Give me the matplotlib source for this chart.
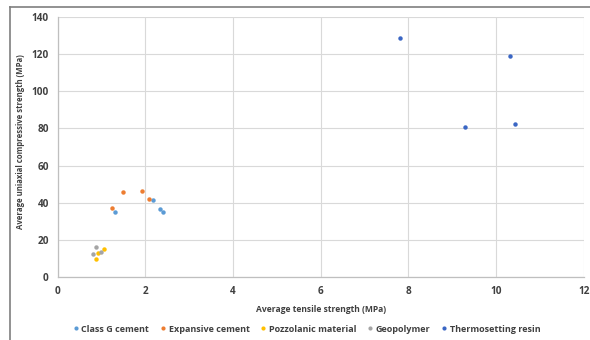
import matplotlib.pyplot as plt
from matplotlib.lines import Line2D

plt.rcParams['font.family'] = ['Open Sans', 'DejaVu Sans']

# Average tensile strength (MPa) / average UCS (MPa) per material class
class_g_x = [1.30, 2.18, 2.34, 2.41]
class_g_y = [35.0, 41.6, 36.8, 35.0]

expansive_x = [1.23, 1.48, 1.92, 2.07]
expansive_y = [37.3, 45.9, 46.3, 42.0]

pozzolanic_x = [0.86, 0.92, 1.05]
pozzolanic_y = [9.9, 12.9, 15.2]

geopolymer_x = [0.80, 0.86, 0.98]
geopolymer_y = [12.2, 16.2, 13.3]

resin_x = [7.81, 9.30, 10.31, 10.44]
resin_y = [128.5, 80.9, 119.0, 82.6]

series = [
    ("Class G cement", class_g_x, class_g_y, "#5B9BD5"),
    ("Expansive cement", expansive_x, expansive_y, "#ED7D31"),
    ("Pozzolanic material", pozzolanic_x, pozzolanic_y, "#FFC000"),
    ("Geopolymer", geopolymer_x, geopolymer_y, "#A5A5A5"),
    ("Thermosetting resin", resin_x, resin_y, "#3A66C4"),
]

fig = plt.figure(figsize=(5.9, 3.4), dpi=100)
ax = fig.add_axes([0.098, 0.185, 0.8915, 0.765])

for name, xs, ys, col in series:
    ax.plot(xs, ys, linestyle="none", marker="o", markersize=3.2,
            color=col, markeredgewidth=0, label=name, zorder=3)

ax.set_xlim(0, 12)
ax.set_ylim(0, 140)
ax.set_xticks(range(0, 13, 2))
ax.set_yticks(range(0, 141, 20))
ax.grid(True, color="#D9D9D9", linewidth=0.8)
ax.set_axisbelow(True)
for side in ["top", "right"]:
    ax.spines[side].set_visible(False)
for side in ["left", "bottom"]:
    ax.spines[side].set_color("#BFBFBF")
    ax.spines[side].set_linewidth(0.9)
ax.tick_params(length=0, pad=6.5, labelsize=7.2, labelcolor="#404040")
for lab in ax.get_xticklabels() + ax.get_yticklabels():
    lab.set_fontweight("bold")

ax.set_xlabel("Average tensile strength (MPa)", fontsize=6.1, fontweight="bold",
              color="#404040")
ax.set_ylabel("Average uniaxial compressive strength (MPa)", fontsize=5.6,
              fontweight="bold", color="#404040")
ax.xaxis.set_label_coords(0.5, -0.107)
ax.yaxis.set_label_coords(-0.063, 0.521)

handles = [Line2D([], [], linestyle="none", marker="o", markersize=3,
                  color=col, markeredgewidth=0) for _, _, _, col in series]
fig.legend(handles, [s[0] for s in series], loc="center", ncol=5,
           bbox_to_anchor=(0.52, 0.032), frameon=False,
           handlelength=0.6, handletextpad=0.3, columnspacing=1.25,
           prop={"weight": "bold", "size": 6.5})
for t in fig.legends[0].get_texts():
    t.set_color("#404040")

# outer chart frame (top and left edges visible)
fig.add_artist(Line2D([0.017, 1.0], [0.979, 0.979], color="#7F7F7F", linewidth=1.2))
fig.add_artist(Line2D([0.017, 0.017], [0.0, 0.979], color="#7F7F7F", linewidth=1.2))

fig.savefig("out.png", dpi=100)
